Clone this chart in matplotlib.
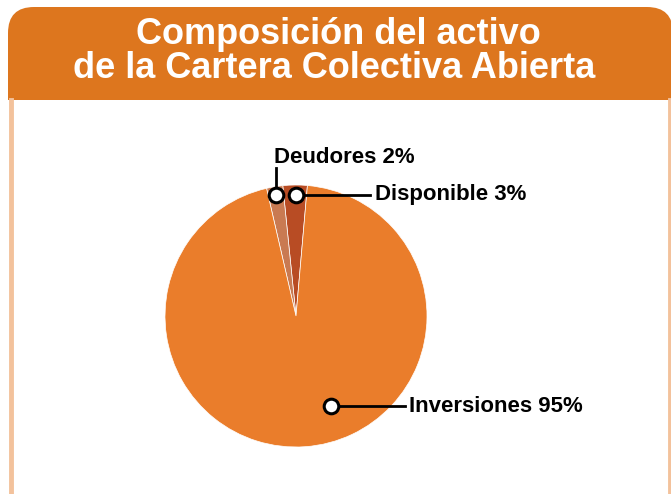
import numpy as np
import matplotlib
matplotlib.use("Agg")
import matplotlib.pyplot as plt
from matplotlib.patches import FancyBboxPatch, Rectangle

title_lines = ["Composición del activo", "de la Cartera Colectiva Abierta"]
categories = ["Disponible", "Deudores", "Inversiones"]
shares = [3, 2, 95]
slice_colors = ["#B84C24", "#C97A52", "#EA7D2B"]

W, H = 671, 494
cx, cy, R = 296, 316, 131

plt.rcParams['font.family'] = ['Liberation Sans', 'DejaVu Sans']

fig = plt.figure(figsize=(W / 100, H / 100), dpi=100)
bg = fig.add_axes([0, 0, 1, 1])
bg.set_xlim(0, W)
bg.set_ylim(H, 0)
bg.axis('off')

# header banner with rounded top corners
bg.add_patch(FancyBboxPatch((8, 7), 665, 120, boxstyle="round,pad=0,rounding_size=26",
                            fc="#DD761E", ec="none", zorder=1))
bg.add_patch(Rectangle((8, 60), 665, 40, fc="#DD761E", ec="none", zorder=1))
bg.add_patch(Rectangle((8, 100), 665, 400, fc="white", ec="none", zorder=2))
# side borders
bg.plot([11, 11], [100, H], color="#F3C29C", lw=3.5, zorder=3)
bg.plot([670, 670], [100, H], color="#F3C29C", lw=3.5, zorder=3)

bg.text(338, 44, title_lines[0], color="white", fontsize=26, fontweight="bold",
        ha="center", va="baseline", zorder=4)
bg.text(334, 78, title_lines[1], color="white", fontsize=26, fontweight="bold",
        ha="center", va="baseline", zorder=4)

pax = fig.add_axes([(cx - R) / W, (H - cy - R) / H, 2 * R / W, 2 * R / H])
wedges, _ = pax.pie(shares, colors=slice_colors, startangle=85, counterclock=True,
                    wedgeprops=dict(edgecolor="white", linewidth=0.5))
pax.set_xlim(-1, 1)
pax.set_ylim(-1, 1)
pax.axis('off')

# overlay for callouts, on top of the pie
ov = fig.add_axes([0, 0, 1, 1])
ov.set_xlim(0, W)
ov.set_ylim(H, 0)
ov.axis('off')
ov.patch.set_alpha(0)


def anchor(w, frac, r):
    ang = np.deg2rad(w.theta1 + frac * (w.theta2 - w.theta1))
    return cx + R * r * np.cos(ang), cy - R * r * np.sin(ang)


lab = {c: f"{c} {v}%" for c, v in zip(categories, shares)}
fs = 16

# Disponible
x0, y0 = anchor(wedges[0], 0.45, 0.925)
ov.plot([x0, 370], [y0, y0], color="black", lw=2)
ov.plot(x0, y0, 'o', ms=10.5, mfc="white", mec="black", mew=2.2)
ov.text(375, y0, lab["Disponible"], fontsize=fs, fontweight="bold", ha="left", va="center")

# Deudores
x1, y1 = anchor(wedges[1], 0.5, 0.935)
ov.plot([x1, x1], [y1, 168], color="black", lw=2)
ov.plot(x1, y1, 'o', ms=10.5, mfc="white", mec="black", mew=2.2)
ov.text(x1 - 2, 157, lab["Deudores"], fontsize=fs, fontweight="bold", ha="left", va="center")

# Inversiones
x2, y2 = anchor(wedges[2], 0.55, 0.74)
ov.plot([x2, 405], [y2, y2], color="black", lw=2)
ov.plot(x2, y2, 'o', ms=10.5, mfc="white", mec="black", mew=2.2)
ov.text(409, y2, lab["Inversiones"], fontsize=fs, fontweight="bold", ha="left", va="center")

fig.savefig("out.png", dpi=100)
